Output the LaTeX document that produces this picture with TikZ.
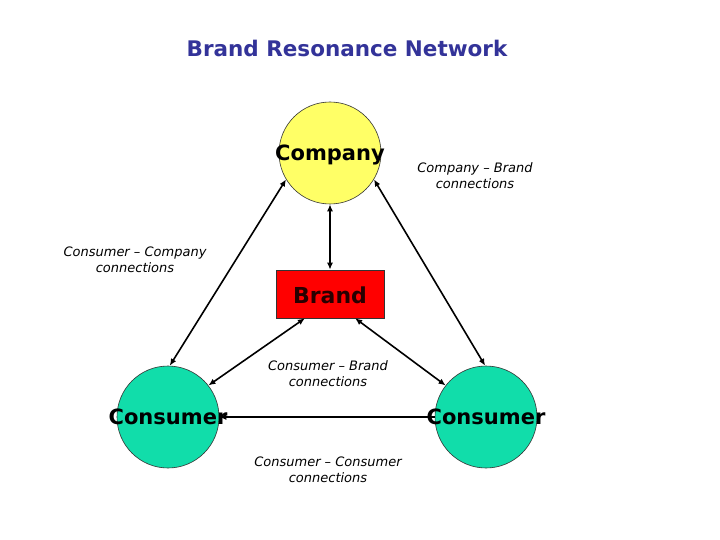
\documentclass[tikz,border=0pt]{standalone}
\usepackage{fontspec}
\setmainfont{DejaVu Sans}
\usetikzlibrary{arrows.meta}
\definecolor{titleblue}{RGB}{51,51,153}
\definecolor{compyellow}{RGB}{255,255,102}
\definecolor{consgreen}{RGB}{17,221,170}
\definecolor{brandred}{RGB}{255,0,0}
\definecolor{brandtext}{RGB}{40,0,0}
\begin{document}
\begin{tikzpicture}[x=1pt,y=-1pt,
  circ/.style={circle,draw=black!80,line width=0.6pt,minimum size=102pt,inner sep=0pt},
  brandbox/.style={rectangle,draw=black!80,line width=0.6pt,fill=brandred,minimum width=108pt,minimum height=48pt,inner sep=0pt},
  bigtxt/.style={font=\fontsize{21}{24}\selectfont\bfseries,inner sep=0pt},
  note/.style={font=\fontsize{13}{16}\selectfont\itshape,align=center,inner sep=0pt},
  conn/.style={line width=1.6pt,{Latex[length=7pt,width=6pt]}-{Latex[length=7pt,width=6pt]}},
  conn1/.style={line width=2pt,{Latex[length=7pt,width=6pt]}-}
]
\useasboundingbox (0,0) rectangle (720,540);
\fill[white] (0,0) rectangle (720,540);
\node[font=\fontsize{21.5}{24}\selectfont\bfseries,text=titleblue,inner sep=0pt] (title) at (347,48) {Brand Resonance Network};

\node[circ,fill=compyellow] (comp) at (330,153) {};
\node[brandbox] (brand) at (330,294) {};
\node[circ,fill=consgreen] (cl) at (168,417) {};
\node[circ,fill=consgreen] (cr) at (486,417) {};

\draw[conn] (comp.south) -- (brand.north);
\draw[conn] (comp.211) -- (cl.88);
\draw[conn] (comp.329) -- (cr.91);
\draw[conn] (brand.224) -- (cl.38);
\draw[conn] (brand.316) -- (cr.142);
\draw[conn1] (cl.east) -- (cr.west);

\node[bigtxt] (compT) at (330,155) {Company};
\node[bigtxt,text=brandtext,font=\fontsize{22}{24}\selectfont\bfseries] (brandT) at (330,295) {Brand};
\node[bigtxt] (clT) at (168,417) {Consumer};
\node[bigtxt] (crT) at (486,417) {Consumer};

\node[note] (n1) at (475,176) {Company – Brand\\connections};
\node[note] (n2) at (135,260) {Consumer – Company\\connections};
\node[note] (n3) at (328,374) {Consumer – Brand\\connections};
\node[note] (n4) at (328,470) {Consumer – Consumer\\connections};
\end{tikzpicture}
\end{document}
